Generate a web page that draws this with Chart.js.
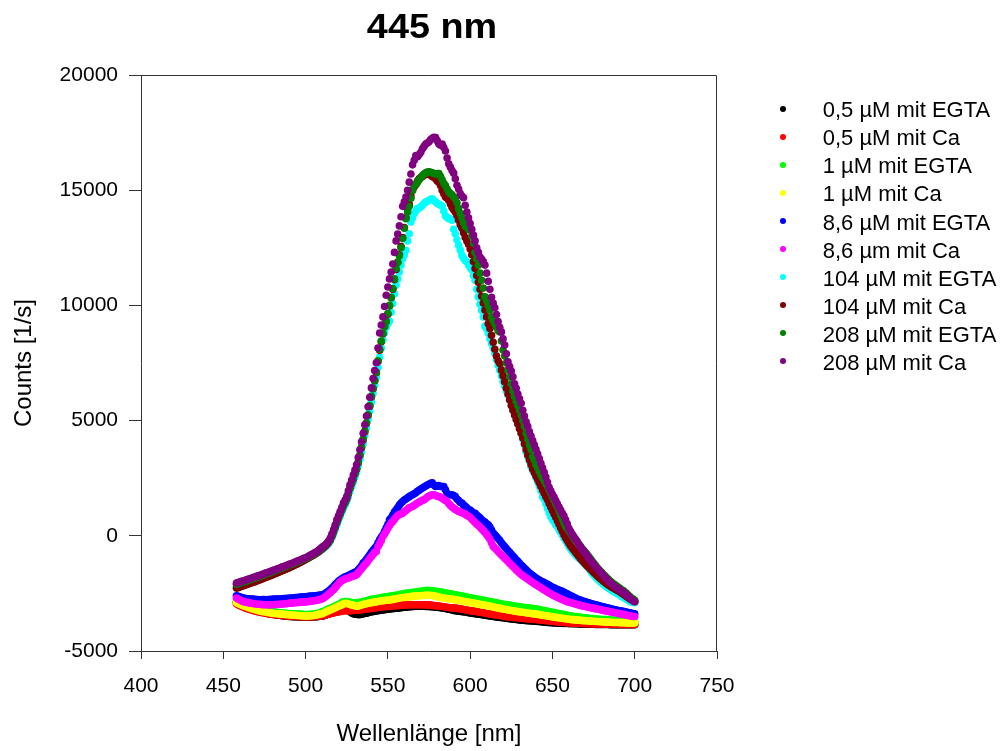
<!DOCTYPE html>
<html><head><meta charset="utf-8">
<script src="https://cdn.jsdelivr.net/npm/chart.js@4.4.1/dist/chart.umd.min.js"></script>
<style>
html,body{margin:0;padding:0;background:#fff;}
#wrap{position:relative;width:1004px;height:751px;overflow:hidden;font-family:'Liberation Sans',Arial,sans-serif;}
#c{position:absolute;left:0;top:0;}
#title{position:absolute;left:281.7px;top:8px;width:300px;text-align:center;font-family:'Liberation Sans',Arial,sans-serif;font-weight:bold;font-size:35px;line-height:35px;transform:scaleX(1.08);transform-origin:center;color:#000;white-space:nowrap;}
.lg-dot{position:absolute;width:6px;height:6px;border-radius:50%;}
.lg-txt{position:absolute;font-family:'Liberation Sans',Arial,sans-serif;font-size:22px;line-height:22px;color:#000;white-space:nowrap;}
</style></head>
<body>
<div id="wrap">
<canvas id="c" width="1004" height="751"></canvas>
<div id="title">445 nm</div>
<div id="legend"></div>
</div>
<script>
const chartTitle = '445 nm';
const xAxisTitle = 'Wellenlänge [nm]';
const yAxisTitle = 'Counts [1/s]';
const xTicks = [400,450,500,550,600,650,700,750];
const yTicks = [-5000,0,5000,10000,15000,20000];

const wavelengths = [
458,459,460,461,462,463,464,465,466,467,
468,469,470,471,472,473,474,475,476,477,
478,479,480,481,482,483,484,485,486,487,
488,489,490,491,492,493,494,495,496,497,
498,499,500,501,502,503,504,505,506,507,
508,509,510,511,512,513,514,515,516,517,
518,519,520,521,522,523,524,525,526,527,
528,529,530,531,532,533,534,535,536,537,
538,539,540,541,542,543,544,545,546,547,
548,549,550,551,552,553,554,555,556,557,
558,559,560,561,562,563,564,565,566,567,
568,569,570,571,572,573,574,575,576,577,
578,579,580,581,582,583,584,585,586,587,
588,589,590,591,592,593,594,595,596,597,
598,599,600,601,602,603,604,605,606,607,
608,609,610,611,612,613,614,615,616,617,
618,619,620,621,622,623,624,625,626,627,
628,629,630,631,632,633,634,635,636,637,
638,639,640,641,642,643,644,645,646,647,
648,649,650,651,652,653,654,655,656,657,
658,659,660,661,662,663,664,665,666,667,
668,669,670,671,672,673,674,675,676,677,
678,679,680,681,682,683,684,685,686,687,
688,689,690,691,692,693,694,695,696,697,
698,699,700];

const egta05 = [
-2880,-2930,-2970,-3010,-3040,-3080,-3110,-3130,-3160,-3190,
-3210,-3230,-3250,-3270,-3290,-3310,-3320,-3340,-3350,-3370,
-3380,-3400,-3410,-3420,-3430,-3440,-3450,-3460,-3470,-3480,
-3490,-3490,-3500,-3500,-3510,-3510,-3510,-3510,-3520,-3520,
-3520,-3520,-3520,-3520,-3520,-3520,-3520,-3520,-3510,-3510,
-3500,-3490,-3490,-3470,-3450,-3420,-3400,-3370,-3350,-3320,
-3300,-3280,-3260,-3230,-3210,-3200,-3200,-3210,-3250,-3300,
-3350,-3380,-3400,-3410,-3420,-3420,-3400,-3380,-3370,-3360,
-3340,-3320,-3300,-3290,-3280,-3260,-3250,-3240,-3230,-3220,
-3210,-3200,-3190,-3180,-3170,-3160,-3150,-3140,-3140,-3130,
-3120,-3110,-3100,-3100,-3090,-3080,-3080,-3070,-3070,-3060,
-3060,-3060,-3060,-3060,-3060,-3070,-3070,-3070,-3080,-3080,
-3090,-3100,-3100,-3110,-3120,-3130,-3140,-3160,-3170,-3190,
-3200,-3220,-3240,-3250,-3260,-3270,-3280,-3290,-3300,-3310,
-3320,-3340,-3350,-3360,-3370,-3380,-3390,-3400,-3410,-3420,
-3440,-3450,-3460,-3470,-3480,-3490,-3500,-3510,-3520,-3530,
-3540,-3550,-3560,-3570,-3580,-3590,-3600,-3610,-3610,-3620,
-3630,-3640,-3650,-3660,-3660,-3670,-3680,-3690,-3690,-3700,
-3700,-3710,-3710,-3720,-3720,-3730,-3740,-3740,-3750,-3760,
-3760,-3770,-3770,-3780,-3780,-3790,-3790,-3790,-3800,-3800,
-3800,-3800,-3810,-3810,-3810,-3820,-3820,-3820,-3830,-3830,
-3830,-3830,-3830,-3840,-3840,-3840,-3840,-3840,-3850,-3850,
-3850,-3850,-3850,-3850,-3850,-3850,-3850,-3860,-3860,-3860,
-3860,-3860,-3860,-3860,-3860,-3860,-3860,-3860,-3860,-3860,
-3860,-3860,-3860];

const ca05 = [
-2950,-2990,-3030,-3060,-3090,-3120,-3150,-3170,-3200,-3220,
-3240,-3260,-3280,-3300,-3310,-3330,-3340,-3350,-3360,-3380,
-3390,-3400,-3410,-3420,-3430,-3440,-3450,-3460,-3460,-3470,
-3480,-3480,-3490,-3490,-3490,-3500,-3500,-3500,-3500,-3510,
-3510,-3510,-3510,-3510,-3510,-3510,-3510,-3510,-3500,-3500,
-3490,-3480,-3480,-3460,-3440,-3420,-3400,-3380,-3360,-3350,
-3330,-3320,-3300,-3290,-3270,-3260,-3250,-3250,-3250,-3250,
-3240,-3240,-3240,-3230,-3230,-3220,-3210,-3200,-3190,-3180,
-3170,-3160,-3150,-3140,-3130,-3120,-3110,-3100,-3090,-3080,
-3080,-3070,-3060,-3060,-3050,-3040,-3040,-3030,-3030,-3020,
-3010,-3010,-3000,-3000,-3000,-2990,-2990,-2990,-2990,-2990,
-2990,-2990,-2990,-2990,-2990,-3000,-3000,-3000,-3010,-3020,
-3030,-3040,-3040,-3050,-3060,-3070,-3080,-3090,-3100,-3110,
-3120,-3130,-3130,-3140,-3150,-3160,-3170,-3180,-3200,-3210,
-3220,-3230,-3250,-3260,-3270,-3280,-3290,-3310,-3320,-3330,
-3340,-3350,-3370,-3380,-3390,-3400,-3410,-3430,-3440,-3450,
-3460,-3470,-3490,-3500,-3510,-3520,-3520,-3530,-3540,-3550,
-3560,-3560,-3570,-3580,-3580,-3590,-3600,-3600,-3610,-3620,
-3620,-3630,-3630,-3640,-3650,-3650,-3660,-3670,-3680,-3690,
-3700,-3710,-3710,-3720,-3730,-3730,-3740,-3740,-3750,-3760,
-3760,-3770,-3770,-3780,-3780,-3790,-3790,-3790,-3800,-3800,
-3800,-3810,-3810,-3810,-3820,-3820,-3820,-3820,-3830,-3830,
-3830,-3830,-3830,-3830,-3840,-3840,-3840,-3840,-3840,-3840,
-3840,-3845,-3845,-3845,-3850,-3850,-3850,-3850,-3850,-3850,
-3850,-3850,-3850];

const egta1 = [
-2850,-2880,-2900,-2930,-2950,-2980,-3000,-3030,-3060,-3080,
-3100,-3120,-3150,-3170,-3180,-3200,-3220,-3240,-3250,-3270,
-3280,-3290,-3300,-3310,-3320,-3330,-3330,-3340,-3350,-3350,
-3360,-3370,-3380,-3380,-3390,-3390,-3400,-3400,-3400,-3410,
-3410,-3420,-3420,-3420,-3420,-3410,-3410,-3400,-3390,-3380,
-3350,-3330,-3300,-3280,-3250,-3210,-3180,-3150,-3120,-3080,
-3050,-3020,-2980,-2950,-2900,-2870,-2850,-2850,-2870,-2890,
-2900,-2910,-2920,-2920,-2910,-2890,-2880,-2860,-2840,-2820,
-2800,-2780,-2760,-2750,-2740,-2730,-2710,-2700,-2690,-2670,
-2660,-2650,-2640,-2630,-2610,-2600,-2590,-2580,-2570,-2550,
-2540,-2530,-2510,-2500,-2490,-2480,-2470,-2460,-2450,-2440,
-2430,-2420,-2410,-2400,-2390,-2380,-2370,-2380,-2380,-2390,
-2400,-2410,-2420,-2430,-2440,-2450,-2460,-2480,-2500,-2510,
-2520,-2530,-2550,-2560,-2570,-2590,-2600,-2620,-2630,-2650,
-2660,-2680,-2690,-2700,-2720,-2730,-2740,-2760,-2770,-2790,
-2800,-2810,-2830,-2840,-2850,-2870,-2880,-2900,-2910,-2930,
-2940,-2950,-2970,-2980,-2990,-3000,-3010,-3030,-3040,-3050,
-3060,-3070,-3080,-3090,-3100,-3110,-3120,-3130,-3140,-3150,
-3160,-3170,-3180,-3190,-3200,-3220,-3230,-3250,-3260,-3280,
-3290,-3310,-3320,-3330,-3350,-3360,-3380,-3390,-3410,-3420,
-3430,-3450,-3460,-3470,-3490,-3500,-3510,-3520,-3530,-3540,
-3550,-3560,-3560,-3570,-3580,-3590,-3590,-3600,-3610,-3610,
-3620,-3620,-3630,-3630,-3640,-3640,-3650,-3650,-3660,-3660,
-3670,-3670,-3680,-3680,-3690,-3690,-3700,-3700,-3700,-3710,
-3710,-3710,-3710];

const ca1 = [
-2900,-2940,-2970,-3000,-3030,-3060,-3080,-3110,-3130,-3160,
-3180,-3200,-3220,-3240,-3260,-3280,-3290,-3300,-3320,-3330,
-3340,-3350,-3360,-3370,-3380,-3380,-3390,-3400,-3400,-3410,
-3420,-3420,-3430,-3440,-3440,-3450,-3450,-3460,-3460,-3470,
-3470,-3480,-3480,-3480,-3480,-3470,-3470,-3460,-3450,-3430,
-3410,-3390,-3380,-3350,-3320,-3280,-3250,-3220,-3190,-3160,
-3120,-3090,-3060,-3030,-3000,-2960,-2930,-2940,-2950,-2980,
-3000,-3020,-3040,-3060,-3050,-3030,-3000,-2980,-2960,-2950,
-2930,-2920,-2900,-2890,-2880,-2860,-2850,-2840,-2830,-2820,
-2810,-2800,-2800,-2790,-2780,-2760,-2740,-2730,-2720,-2700,
-2690,-2680,-2680,-2670,-2660,-2650,-2640,-2630,-2620,-2610,
-2610,-2600,-2600,-2590,-2590,-2580,-2580,-2580,-2590,-2590,
-2600,-2620,-2640,-2660,-2680,-2690,-2700,-2710,-2720,-2730,
-2740,-2750,-2760,-2780,-2790,-2800,-2810,-2830,-2840,-2860,
-2870,-2880,-2900,-2910,-2920,-2930,-2950,-2960,-2970,-2990,
-3000,-3010,-3030,-3040,-3060,-3070,-3090,-3100,-3120,-3130,
-3150,-3160,-3180,-3190,-3200,-3220,-3230,-3240,-3250,-3270,
-3280,-3290,-3300,-3310,-3320,-3330,-3340,-3350,-3360,-3370,
-3380,-3390,-3400,-3410,-3420,-3430,-3450,-3460,-3470,-3480,
-3490,-3500,-3520,-3530,-3540,-3550,-3560,-3570,-3580,-3590,
-3600,-3610,-3620,-3630,-3640,-3640,-3650,-3660,-3660,-3670,
-3680,-3680,-3690,-3690,-3700,-3700,-3710,-3710,-3720,-3720,
-3720,-3730,-3730,-3740,-3740,-3740,-3750,-3750,-3750,-3760,
-3760,-3760,-3760,-3770,-3770,-3770,-3770,-3780,-3780,-3780,
-3780,-3780,-3780];

const egta86 = [
-2600,-2630,-2650,-2680,-2700,-2710,-2720,-2730,-2740,-2750,
-2750,-2760,-2770,-2770,-2780,-2780,-2770,-2770,-2780,-2770,
-2770,-2760,-2760,-2750,-2750,-2740,-2740,-2740,-2730,-2720,
-2720,-2710,-2710,-2700,-2700,-2690,-2680,-2680,-2670,-2660,
-2660,-2650,-2650,-2640,-2630,-2620,-2610,-2610,-2600,-2590,
-2580,-2570,-2570,-2550,-2500,-2450,-2400,-2340,-2270,-2200,
-2120,-2050,-1980,-1920,-1870,-1820,-1780,-1760,-1720,-1690,
-1650,-1620,-1580,-1550,-1480,-1400,-1300,-1180,-1120,-1020,
-920,-820,-720,-630,-540,-460,-300,-170,-50,40,
200,350,500,690,780,900,1030,1130,1230,1330,
1420,1490,1550,1600,1650,1700,1750,1780,1820,1870,
1930,1980,2030,2070,2120,2160,2200,2240,2280,2300,
2200,2140,2150,2180,2140,2140,2140,2000,1850,1780,
1780,1780,1750,1700,1600,1530,1450,1420,1330,1280,
1220,1130,1120,1050,990,980,900,840,780,690,
640,600,520,480,380,250,120,40,-30,-120,
-200,-300,-390,-470,-550,-640,-720,-800,-880,-960,
-1040,-1110,-1190,-1270,-1340,-1410,-1480,-1550,-1620,-1670,
-1730,-1780,-1830,-1880,-1920,-1960,-2000,-2030,-2070,-2110,
-2150,-2190,-2230,-2260,-2300,-2330,-2360,-2390,-2410,-2450,
-2490,-2520,-2560,-2600,-2630,-2670,-2700,-2740,-2770,-2790,
-2820,-2840,-2860,-2890,-2910,-2930,-2950,-2970,-2990,-3010,
-3030,-3050,-3070,-3080,-3100,-3120,-3140,-3160,-3180,-3190,
-3210,-3220,-3240,-3250,-3270,-3280,-3300,-3310,-3330,-3340,
-3360,-3370,-3380];

const ca86 = [
-2700,-2740,-2780,-2820,-2850,-2870,-2890,-2900,-2920,-2930,
-2940,-2950,-2960,-2970,-2970,-2980,-2990,-2990,-2990,-2990,
-2990,-2990,-2990,-2980,-2980,-2980,-2970,-2970,-2960,-2950,
-2950,-2940,-2930,-2920,-2920,-2910,-2900,-2900,-2890,-2880,
-2880,-2870,-2870,-2860,-2850,-2840,-2830,-2820,-2810,-2800,
-2780,-2760,-2730,-2700,-2650,-2590,-2530,-2470,-2400,-2340,
-2250,-2170,-2080,-2000,-1950,-1910,-1880,-1850,-1830,-1800,
-1780,-1750,-1720,-1690,-1600,-1520,-1430,-1340,-1260,-1180,
-1080,-990,-900,-810,-720,-680,-480,-340,-200,-30,
80,200,330,450,550,620,720,800,880,920,
950,980,1040,1100,1160,1210,1250,1270,1320,1370,
1420,1460,1500,1540,1560,1620,1680,1720,1760,1780,
1780,1750,1720,1700,1680,1630,1580,1530,1490,1400,
1320,1250,1200,1140,1100,1060,1030,1000,980,940,
880,850,800,720,650,580,500,450,380,300,
220,140,60,-40,-150,-300,-460,-530,-600,-680,
-760,-830,-900,-970,-1040,-1120,-1190,-1260,-1330,-1400,
-1480,-1550,-1620,-1680,-1730,-1780,-1830,-1880,-1930,-1980,
-2030,-2080,-2120,-2170,-2210,-2260,-2300,-2350,-2390,-2440,
-2480,-2520,-2560,-2600,-2630,-2670,-2700,-2740,-2770,-2800,
-2830,-2860,-2880,-2900,-2920,-2940,-2960,-2980,-3000,-3020,
-3040,-3060,-3070,-3090,-3100,-3120,-3130,-3150,-3160,-3180,
-3190,-3210,-3220,-3240,-3250,-3270,-3280,-3300,-3310,-3320,
-3340,-3350,-3370,-3380,-3400,-3410,-3430,-3440,-3460,-3470,
-3490,-3500,-3500];

const egta104 = [
-2250,-2230,-2200,-2180,-2150,-2130,-2100,-2080,-2050,-2030,
-2000,-1980,-1950,-1920,-1900,-1870,-1840,-1810,-1790,-1760,
-1730,-1700,-1670,-1640,-1610,-1580,-1550,-1520,-1490,-1460,
-1430,-1400,-1370,-1340,-1300,-1270,-1240,-1200,-1170,-1130,
-1100,-1060,-1020,-980,-940,-900,-860,-820,-780,-740,
-690,-640,-590,-540,-480,-410,-330,-230,-90,80,
270,470,660,850,1020,1200,1350,1500,1700,1930,
2150,2350,2550,2770,3020,3320,3650,4000,4350,4700,
5050,5420,5800,6180,6530,6880,7300,7750,8150,8500,
8800,9050,9200,9320,9700,10080,10500,10880,11150,11450,
11750,12030,12200,12390,12800,13110,13620,13800,13980,14100,
14200,14230,14270,14350,14420,14490,14520,14560,14600,14630,
14550,14500,14420,14400,14350,14310,14100,13880,13820,13760,
13760,13700,13300,13110,12850,12610,12400,12170,12050,11950,
11890,11750,11650,11550,11300,11090,10700,10370,10050,9790,
9500,9100,9000,8800,8550,8350,8150,7920,7650,7400,
7190,6950,6700,6500,6300,6110,5880,5650,5450,5240,
5050,4850,4670,4450,4200,3950,3650,3450,3250,3000,
2850,2700,2530,2350,2150,1950,1700,1600,1400,1200,
1000,840,700,600,480,400,260,150,30,-100,
-200,-320,-460,-560,-660,-740,-820,-900,-970,-1020,
-1100,-1180,-1250,-1330,-1400,-1500,-1620,-1700,-1770,-1850,
-1920,-1990,-2050,-2110,-2170,-2220,-2270,-2320,-2370,-2410,
-2450,-2490,-2530,-2570,-2630,-2670,-2710,-2750,-2800,-2850,
-2870,-2890,-2900];

const ca104 = [
-2270,-2250,-2220,-2200,-2170,-2150,-2120,-2100,-2070,-2050,
-2020,-2000,-1970,-1940,-1920,-1890,-1860,-1830,-1800,-1780,
-1750,-1720,-1690,-1660,-1630,-1600,-1570,-1540,-1510,-1480,
-1450,-1420,-1390,-1350,-1320,-1290,-1250,-1220,-1180,-1150,
-1110,-1070,-1030,-990,-950,-910,-870,-830,-780,-740,
-690,-630,-570,-510,-450,-380,-290,-180,-20,170,
370,570,760,950,1120,1300,1450,1600,1820,2060,
2270,2470,2680,2890,3170,3480,3820,4170,4520,4880,
5230,5620,6020,6380,6730,7080,7560,8050,8420,8770,
9080,9300,9620,9980,10330,10700,11120,11560,11880,12200,
12550,12950,13380,13800,14150,14400,14750,15000,15150,15250,
15400,15500,15550,15600,15650,15700,15720,15700,15650,15600,
15550,15500,15400,15350,15200,15000,14850,14700,14650,14560,
14400,14250,14150,14050,13900,13700,13500,13350,13150,12950,
12800,12650,12450,12200,11900,11600,11300,11000,10700,10400,
10100,9800,9500,9200,9000,8700,8400,8100,7800,7600,
7480,7200,6950,6690,6400,6150,5900,5650,5450,5240,
5050,4850,4650,4450,4250,4000,3750,3510,3300,3100,
2900,2750,2600,2450,2300,2150,2000,1850,1700,1560,
1400,1250,1100,950,800,650,500,350,200,50,
-80,-200,-320,-430,-530,-620,-710,-800,-890,-980,
-1060,-1140,-1220,-1300,-1370,-1440,-1510,-1580,-1650,-1720,
-1790,-1850,-1910,-1970,-2030,-2080,-2130,-2180,-2230,-2270,
-2310,-2350,-2390,-2430,-2480,-2530,-2580,-2630,-2680,-2730,
-2780,-2820,-2860];

const egta208 = [
-2100,-2080,-2050,-2030,-2010,-1990,-1960,-1940,-1910,-1890,
-1860,-1840,-1810,-1790,-1760,-1740,-1710,-1690,-1660,-1630,
-1610,-1580,-1550,-1530,-1500,-1470,-1440,-1420,-1390,-1360,
-1330,-1300,-1270,-1250,-1220,-1190,-1160,-1130,-1100,-1070,
-1040,-1010,-980,-950,-910,-870,-830,-790,-750,-700,
-650,-590,-530,-480,-420,-350,-260,-150,20,200,
400,600,800,980,1150,1330,1480,1630,1850,2100,
2300,2500,2700,2920,3200,3500,3850,4200,4550,4900,
5250,5650,6050,6400,6750,7100,7600,8100,8450,8800,
9100,9290,9650,10000,10350,10730,11150,11600,11850,12150,
12500,12900,13350,13760,14050,14300,14650,14990,15200,15250,
15350,15450,15550,15640,15700,15750,15790,15800,15780,15750,
15720,15700,15720,15720,15600,15450,15300,15200,15050,14920,
14850,14800,14700,14650,14450,14200,14000,13800,13600,13450,
13380,13300,13260,13000,12700,12300,12030,11740,11400,11090,
10750,10370,10200,10000,9800,9500,9350,9200,9050,8900,
8850,8450,8060,7800,7500,7200,6900,6600,6300,6050,
5850,5650,5460,5250,5000,4750,4450,4200,3950,3750,
3440,3300,3100,2950,2790,2650,2520,2400,2270,2140,
2000,1850,1700,1550,1400,1270,1100,900,730,560,
400,330,220,120,10,-100,-170,-280,-370,-460,
-550,-640,-720,-800,-900,-990,-1090,-1180,-1270,-1370,
-1450,-1530,-1600,-1680,-1750,-1820,-1890,-1960,-2020,-2080,
-2130,-2180,-2230,-2280,-2340,-2380,-2440,-2500,-2570,-2640,
-2700,-2750,-2800];

const ca208 = [
-2050,-2030,-2010,-1980,-1960,-1940,-1910,-1890,-1870,-1840,
-1820,-1790,-1770,-1740,-1720,-1690,-1670,-1640,-1610,-1590,
-1560,-1540,-1510,-1490,-1460,-1430,-1410,-1380,-1350,-1320,
-1300,-1270,-1240,-1210,-1190,-1160,-1130,-1100,-1070,-1040,
-1010,-980,-950,-920,-880,-840,-800,-760,-720,-680,
-620,-560,-500,-450,-400,-320,-230,-100,80,260,
470,690,870,1050,1230,1420,1550,1700,1950,2210,
2420,2640,2850,3080,3400,3730,4080,4450,4820,5200,
5600,6010,6420,6830,7170,7510,8150,8800,9150,9500,
9950,10440,10800,11150,11450,11800,12300,12800,13100,13450,
13850,14300,14500,14700,15000,15350,15700,16100,16300,16500,
16450,16550,16650,16800,16900,17000,17050,17100,17200,17250,
17300,17280,17150,17000,16950,17000,16850,16700,16400,16150,
16000,15850,15740,15500,15210,15050,14850,14750,14670,14350,
14050,13800,13550,13300,13050,12800,12500,12300,12100,12000,
11900,11750,11400,11050,10700,10350,10100,9900,9600,9300,
9050,8850,8550,8280,7900,7550,7350,7150,6900,6600,
6400,6150,5950,5750,5450,5200,4950,4750,4520,4330,
4130,3950,3750,3560,3350,3150,2950,2760,2550,2320,
2100,1950,1800,1680,1530,1390,1250,1120,980,870,
690,520,330,200,80,-30,-140,-240,-370,-480,
-580,-660,-760,-850,-960,-1060,-1150,-1230,-1320,-1400,
-1480,-1560,-1640,-1720,-1800,-1880,-1950,-2020,-2090,-2150,
-2200,-2250,-2300,-2350,-2400,-2440,-2500,-2560,-2630,-2700,
-2760,-2820,-2850];

const seriesLabels = ['0,5 µM mit EGTA','0,5 µM mit Ca','1 µM mit EGTA','1 µM mit Ca','8,6 µM mit EGTA','8,6 µm mit Ca','104 µM mit EGTA','104 µM mit Ca','208 µM mit EGTA','208 µM mit Ca'];
const seriesColors = ['#000000','#ff0000','#00ff00','#ffff00','#0000ff','#ff00ff','#00ffff','#800000','#008000','#800080'];
const seriesValues = [egta05, ca05, egta1, ca1, egta86, ca86, egta104, ca104, egta208, ca208];

const FONT = "'Liberation Sans', Arial, sans-serif";

const datasets = seriesValues.map((vals, i) => ({
  label: seriesLabels[i],
  data: wavelengths.map((x, j) => ({x: x, y: vals[j]})),
  backgroundColor: seriesColors[i],
  borderColor: seriesColors[i],
  pointRadius: 3.8,
  pointHoverRadius: 3.8,
  pointBorderWidth: 0,
  showLine: false,
  order: seriesValues.length - i
}));

const frameBox = {
  id: 'frameBox',
  afterDraw(chart) {
    const a = chart.chartArea, ctx = chart.ctx;
    ctx.save();
    ctx.strokeStyle = '#333';
    ctx.lineWidth = 1;
    const t = Math.round(a.top) + 0.5, r = Math.round(a.right) - 0.5;
    ctx.beginPath();
    ctx.moveTo(Math.round(a.left), t);
    ctx.lineTo(r, t);
    ctx.lineTo(r, Math.round(a.bottom));
    ctx.stroke();
    ctx.restore();
  }
};

new Chart(document.getElementById('c'), {
  type: 'scatter',
  data: { datasets },
  plugins: [frameBox],
  options: {
    responsive: false,
    animation: false,
    devicePixelRatio: 1,
    events: [],
    layout: { padding: { top: 75, right: 287, bottom: 0, left: 0 } },
    plugins: { legend: { display: false }, title: { display: false }, tooltip: { enabled: false } },
    scales: {
      x: {
        type: 'linear', min: xTicks[0], max: xTicks[xTicks.length - 1],
        afterFit(s) { s.height = 100; },
        afterBuildTicks(s) { s.ticks = xTicks.map(v => ({ value: v })); },
        border: { display: true, color: '#333', width: 1 },
        grid: { display: true, drawOnChartArea: false, drawTicks: true, tickLength: 8, color: '#333', tickWidth: 1 },
        ticks: { color: '#000', font: { size: 21, family: FONT }, padding: 15, maxRotation: 0, autoSkip: false, callback: v => String(v) },
        title: { display: true, text: xAxisTitle, color: '#000', font: { size: 24, family: FONT }, padding: { top: 0, bottom: 2 } }
      },
      y: {
        type: 'linear', min: yTicks[0], max: yTicks[yTicks.length - 1],
        afterFit(s) { s.width = 141; },
        afterBuildTicks(s) { s.ticks = yTicks.map(v => ({ value: v })); },
        border: { display: true, color: '#333', width: 1 },
        grid: { display: true, drawOnChartArea: false, drawTicks: true, tickLength: 12, color: '#333', tickWidth: 1 },
        ticks: { color: '#000', font: { size: 21, family: FONT }, padding: 11, autoSkip: false, callback: v => String(v) },
        title: { display: true, text: yAxisTitle, color: '#000', font: { size: 24, family: FONT }, padding: { top: 10, bottom: 0 } }
      }
    }
  }
});

// legend (HTML text)
const lg = document.getElementById('legend');
seriesLabels.forEach((lab, i) => {
  const d = document.createElement('div');
  d.className = 'lg-dot';
  d.style.left = '780px';
  d.style.top = (105.5 + 28.1 * i) + 'px';
  d.style.background = seriesColors[i];
  lg.appendChild(d);
  const t = document.createElement('div');
  t.className = 'lg-txt';
  t.style.left = '822.7px';
  t.style.top = (99.3 + 28.05 * i) + 'px';
  t.textContent = lab;
  lg.appendChild(t);
});
document.getElementById('title').textContent = chartTitle;
</script>
</body></html>
